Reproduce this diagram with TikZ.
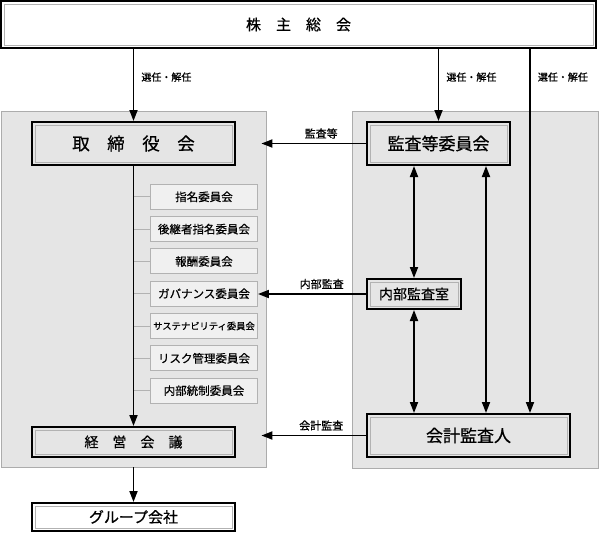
\documentclass[tikz,border=0pt]{standalone}
\usepackage{fontspec}
\setmainfont{Noto Sans CJK JP}[FakeBold=0.6]
\usetikzlibrary{arrows.meta}

\begin{document}
\begin{tikzpicture}[x=1pt, y=-1pt,
    >={Triangle[length=11pt,width=8pt]},
    conn/.style={black, line width=1.8pt},
    panel/.style={draw=gray!65, fill=gray!20, line width=0.8pt},
    mainbox/.style={draw=black, line width=2pt, fill=gray!20, inner sep=0pt,
      path picture={\draw[gray!60, line width=0.8pt]
        ([shift={(3pt,3pt)}]path picture bounding box.south west) rectangle
        ([shift={(-3pt,-3pt)}]path picture bounding box.north east);}},
    cbox/.style={draw=gray!60, fill=gray!12, line width=0.9pt, minimum width=107,
      minimum height=25, inner sep=0pt, font=\fontsize{11.5}{13}\selectfont},
    lab/.style={font=\fontsize{10}{12}\selectfont, inner sep=2pt},
    sidelab/.style={font=\fontsize{11}{13}\selectfont, inner sep=2pt}]
  \useasboundingbox (0,0) rectangle (599,533);

  % panels
  \node[panel, minimum width=265, minimum height=356] (lpanel) at (133.5,289) {};
  \node[panel, minimum width=246, minimum height=357] (rpanel) at (475,289.5) {};

  % main boxes
  \node[mainbox, fill=white, minimum width=595, minimum height=47,
    font=\fontsize{15}{18}\selectfont] (kabu) at (298.5,24.5) {株　主　総　会};
  \node[mainbox, minimum width=203, minimum height=43,
    font=\fontsize{17.5}{20}\selectfont] (tori) at (133.5,143.5) {取　締　役　会};
  \node[mainbox, minimum width=203, minimum height=30,
    font=\fontsize{14}{17}\selectfont] (keiei) at (133.5,442) {経　営　会　議};
  \node[mainbox, fill=white, minimum width=203, minimum height=28,
    font=\fontsize{15}{18}\selectfont] (group) at (133.5,517) {グループ会社};
  \node[mainbox, minimum width=143, minimum height=43,
    font=\fontsize{17}{20}\selectfont] (kansa) at (438.5,143.5) {監査等委員会};
  \node[mainbox, minimum width=94, minimum height=30,
    font=\fontsize{14}{17}\selectfont] (naibu) at (414,294) {内部監査室};
  \node[mainbox, minimum width=203, minimum height=43,
    font=\fontsize{17}{20}\selectfont] (kaikei) at (468.5,435.5) {会計監査人};

  % committees
  \foreach \txt [count=\i] in {指名委員会, 後継者指名委員会, 報酬委員会,
      ガバナンス委員会, {\fontsize{9.3}{11}\selectfont サステナビリティ委員会},
      リスク管理委員会, 内部統制委員会}
    \node[cbox] (c\i) at (204,164.5+32.3*\i) {\txt};
  \foreach \i in {1,...,7}
    \draw[gray!60, line width=0.8pt] (c\i.west) -- (c\i.west -| tori.south);

  \coordinate (sx) at (530,0);
  \coordinate (kx) at (486,0);

  % connectors
  \draw[conn, ->] (kabu.south -| tori.north) -- (tori.north)
    node[pos=0.39, right=5pt, lab] {選任・解任};
  \draw[conn, ->] (kabu.south -| kansa.north) -- (kansa.north)
    node[pos=0.39, right=5pt, lab] {選任・解任};
  \draw[conn, ->] (kabu.south -| sx) -- (kaikei.north -| sx)
    node[pos=0.077, right=5pt, lab] {選任・解任};
  \draw[conn, ->] (tori.south) -- (keiei.north);
  \draw[conn, ->] (lpanel.south -| group.north) -- (group.north);
  \draw[conn, <->] (kansa.south -| naibu.north) -- (naibu.north);
  \draw[conn, <->] (naibu.south) -- (kaikei.north -| naibu.south);
  \draw[conn, <->] (kansa.south -| kx) -- (kaikei.north -| kx);

  \draw[conn, ->, shorten >=-5pt] (kansa.west) -- (kansa.west -| lpanel.east)
    node[pos=0.45, above=2pt, sidelab] {監査等};
  \draw[conn, ->] (naibu.west) -- (naibu.west -| c4.east)
    node[pos=0.41, above=2pt, sidelab] {内部監査};
  \draw[conn, ->, shorten >=-5pt] (kaikei.west) -- (kaikei.west -| lpanel.east)
    node[pos=0.45, above=2pt, sidelab] {会計監査};
\end{tikzpicture}
\end{document}
